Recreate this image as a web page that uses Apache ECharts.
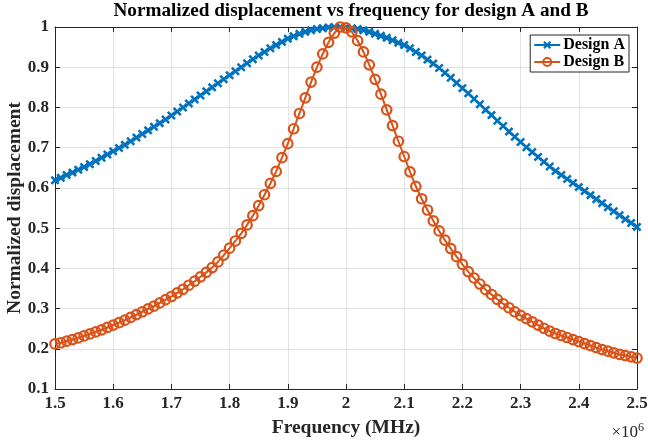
<!DOCTYPE html>
<html>
<head>
<meta charset="utf-8">
<script src="https://cdn.jsdelivr.net/npm/echarts@6/dist/echarts.min.js"></script>
<style>
  html, body { margin: 0; padding: 0; background: #fff; }
  #chart { width: 648px; height: 443px; }
</style>
</head>
<body>
<div id="chart"></div>
<script>
// frequency in units of 10^6 Hz
const freq = [
  1.50, 1.51, 1.52, 1.53, 1.54, 1.55, 1.56, 1.57, 1.58, 1.59,
  1.60, 1.61, 1.62, 1.63, 1.64, 1.65, 1.66, 1.67, 1.68, 1.69,
  1.70, 1.71, 1.72, 1.73, 1.74, 1.75, 1.76, 1.77, 1.78, 1.79,
  1.80, 1.81, 1.82, 1.83, 1.84, 1.85, 1.86, 1.87, 1.88, 1.89,
  1.90, 1.91, 1.92, 1.93, 1.94, 1.95, 1.96, 1.97, 1.98, 1.99,
  2.00, 2.01, 2.02, 2.03, 2.04, 2.05, 2.06, 2.07, 2.08, 2.09,
  2.10, 2.11, 2.12, 2.13, 2.14, 2.15, 2.16, 2.17, 2.18, 2.19,
  2.20, 2.21, 2.22, 2.23, 2.24, 2.25, 2.26, 2.27, 2.28, 2.29,
  2.30, 2.31, 2.32, 2.33, 2.34, 2.35, 2.36, 2.37, 2.38, 2.39,
  2.40, 2.41, 2.42, 2.43, 2.44, 2.45, 2.46, 2.47, 2.48, 2.49,
  2.50
];

const designA = [
  0.619, 0.625, 0.632, 0.638, 0.645, 0.652, 0.659, 0.667, 0.675, 0.683,
  0.691, 0.699, 0.707, 0.716, 0.725, 0.734, 0.743, 0.752, 0.761, 0.770,
  0.780, 0.790, 0.800, 0.810, 0.820, 0.830, 0.840, 0.850, 0.860, 0.870,
  0.880, 0.890, 0.900, 0.910, 0.920, 0.929, 0.938, 0.947, 0.955, 0.963,
  0.971, 0.977, 0.983, 0.988, 0.992, 0.995, 0.997, 0.999, 1.000, 1.000,
  0.999, 0.997, 0.995, 0.992, 0.988, 0.983, 0.978, 0.973, 0.967, 0.961,
  0.955, 0.947, 0.938, 0.929, 0.919, 0.909, 0.898, 0.886, 0.874, 0.861,
  0.848, 0.835, 0.821, 0.808, 0.794, 0.781, 0.767, 0.754, 0.740, 0.727,
  0.714, 0.701, 0.689, 0.677, 0.665, 0.653, 0.642, 0.632, 0.622, 0.612,
  0.602, 0.592, 0.582, 0.572, 0.562, 0.552, 0.542, 0.532, 0.522, 0.513,
  0.503
];

const designB = [
  0.212, 0.215, 0.219, 0.223, 0.227, 0.232, 0.237, 0.242, 0.247, 0.253,
  0.259, 0.265, 0.271, 0.278, 0.285, 0.292, 0.299, 0.306, 0.314, 0.322,
  0.330, 0.339, 0.348, 0.358, 0.368, 0.379, 0.390, 0.402, 0.416, 0.433,
  0.450, 0.468, 0.487, 0.508, 0.531, 0.556, 0.583, 0.611, 0.641, 0.675,
  0.710, 0.747, 0.785, 0.824, 0.863, 0.900, 0.933, 0.962, 0.985, 1.000,
  0.998, 0.988, 0.966, 0.938, 0.906, 0.870, 0.833, 0.794, 0.755, 0.716,
  0.678, 0.640, 0.604, 0.573, 0.545, 0.518, 0.493, 0.470, 0.449, 0.429,
  0.410, 0.392, 0.376, 0.361, 0.347, 0.335, 0.323, 0.312, 0.302, 0.292,
  0.283, 0.275, 0.267, 0.259, 0.251, 0.244, 0.238, 0.233, 0.228, 0.223,
  0.218, 0.213, 0.208, 0.203, 0.198, 0.194, 0.190, 0.186, 0.183, 0.180,
  0.177
];

const seriesNames = ['Design A', 'Design B'];

const FONT = 'Liberation Serif';
const INK = '#262626';
// MATLAB-style 'x' marker as a filled outline
const xMark = 'path://M0,2 L2,0 L5,3 L8,0 L10,2 L7,5 L10,8 L8,10 L5,7 L2,10 L0,8 L3,5 Z';

let chart = echarts.init(document.getElementById('chart'));

const frameAxis = {
  interval: 0.1,
  axisLine: { show: true, onZero: false, lineStyle: { color: INK, width: 1 } },
  axisTick: { show: true, inside: true, length: 5, lineStyle: { color: INK } },
  axisLabel: { show: false },
  splitLine: { show: false }
};

let option = {
  animation: false,
  title: {
    text: 'Normalized displacement vs frequency for design A and B',
    left: 346,
    top: -3,
    textAlign: 'center',
    textStyle: { fontFamily: FONT, fontWeight: 'bold', fontSize: 19.2, color: '#000' }
  },
  legend: {
    data: seriesNames,
    orient: 'vertical',
    right: 19,
    top: 35,
    itemWidth: 26,
    itemHeight: 10,
    itemGap: 1,
    padding: [2, 4, 2, 3],
    borderColor: INK,
    borderWidth: 1,
    backgroundColor: '#fff',
    textStyle: { fontFamily: FONT, fontWeight: 'bold', fontSize: 16, color: '#000', padding: [0, 0, 0, -2] }
  },
  grid: { left: 55, right: 11, top: 27, bottom: 54, containLabel: false, outerBoundsMode: 'none' },
  xAxis: [{
    type: 'value',
    min: 1.5, max: 2.5, interval: 0.1,
    name: 'Frequency (MHz)',
    nameLocation: 'middle',
    nameGap: 29,
    nameMoveOverlap: false,
    nameTextStyle: { fontFamily: FONT, fontWeight: 'bold', fontSize: 19.5, color: INK },
    axisLine: { show: true, onZero: false, lineStyle: { color: INK, width: 1 } },
    axisTick: { show: true, inside: true, length: 5, lineStyle: { color: INK } },
    axisLabel: { margin: 6, fontFamily: FONT, fontWeight: 'bold', fontSize: 17, color: INK },
    splitLine: { show: true, lineStyle: { color: '#e3e3e3', width: 1 } }
  }, Object.assign({}, frameAxis, { type: 'value', position: 'top', min: 1.5, max: 2.5 })],
  yAxis: [{
    type: 'value',
    min: 0.1, max: 1, interval: 0.1,
    name: 'Normalized displacement',
    nameLocation: 'middle',
    nameGap: 30,
    nameMoveOverlap: false,
    nameTextStyle: { fontFamily: FONT, fontWeight: 'bold', fontSize: 19.5, color: INK },
    axisLine: { show: true, onZero: false, lineStyle: { color: INK, width: 1 } },
    axisTick: { show: true, inside: true, length: 5, lineStyle: { color: INK } },
    axisLabel: { margin: 6, fontFamily: FONT, fontWeight: 'bold', fontSize: 17, color: INK },
    splitLine: { show: true, lineStyle: { color: '#e3e3e3', width: 1 } }
  }, Object.assign({}, frameAxis, { type: 'value', position: 'right', min: 0.1, max: 1 })],
  graphic: [{
    type: 'text',
    right: 4,
    top: 422,
    style: {
      text: '×10{sup|6}',
      fontFamily: FONT,
      fontSize: 17,
      fill: INK,
      rich: { sup: { fontFamily: FONT, fontSize: 12, verticalAlign: 'top', padding: [0, 0, 9, 0] } }
    }
  }],
  series: [{
    name: seriesNames[0],
    type: 'line',
    xAxisIndex: 0, yAxisIndex: 0,
    data: freq.map((f, i) => [f, designA[i]]),
    symbol: xMark,
    symbolSize: 9,
    showAllSymbol: true,
    lineStyle: { color: '#0072BD', width: 2 },
    itemStyle: { color: '#0072BD' },
    z: 3
  }, {
    name: seriesNames[1],
    type: 'line',
    xAxisIndex: 0, yAxisIndex: 0,
    data: freq.map((f, i) => [f, designB[i]]),
    symbol: 'circle',
    symbolSize: 9.5,
    showAllSymbol: true,
    lineStyle: { color: '#D95319', width: 2 },
    itemStyle: { color: 'rgba(255,255,255,0)', borderColor: '#D95319', borderWidth: 2.2 },
    z: 4
  }]
};

chart.setOption(option);
</script>
</body>
</html>
